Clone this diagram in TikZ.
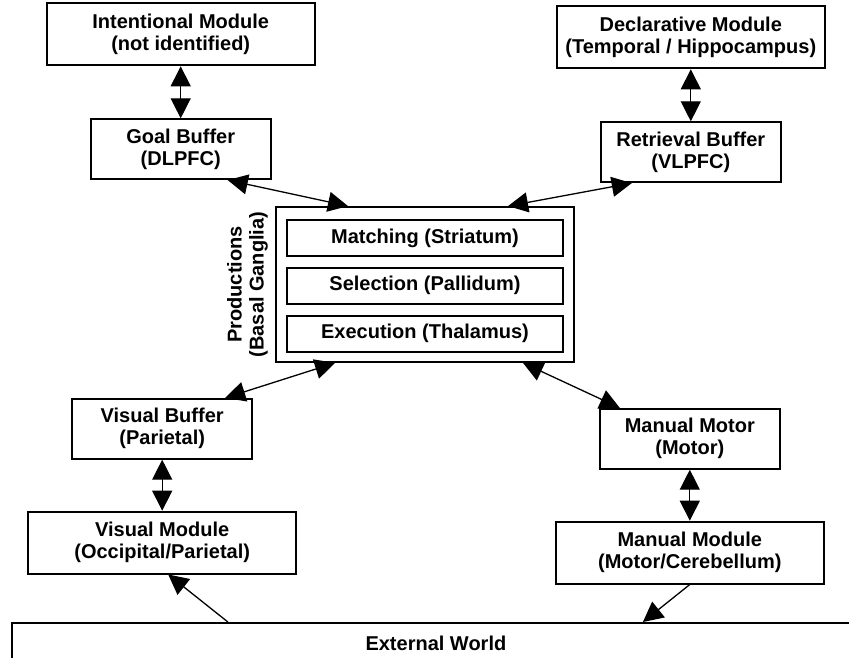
\documentclass[tikz,border=0pt]{standalone}
\usepackage{fontspec}
\setmainfont{Liberation Sans}
\usepackage{tikz}
\usetikzlibrary{positioning, arrows.meta}

\begin{document}
\begin{tikzpicture}[x = 1pt, y = 1pt, node distance = 52pt, >={Triangle[length=20pt, width=20pt]}]
            \tikzstyle{every node} = [font=\bfseries\fontsize{20pt}{22pt}\selectfont]
            \tikzstyle{module} = [draw, line width=1.8pt, minimum width=268pt, minimum height=62pt, align=center]
            \tikzstyle{buffer} = [draw, line width=1.8pt, minimum width=180pt, minimum height=60pt, align=center]
            \tikzstyle{stage} = [draw, line width=1.8pt, minimum width=276pt, minimum height=36pt]
            \tikzstyle{link} = [<->, line width=1.3pt]
            \useasboundingbox (0, 0) rectangle (849, -658);

            \node [draw, line width=1.8pt, minimum width=298pt, minimum height=155pt] (prod) at (425, -284.5) {};
            \node [stage, below = 13pt of prod.north] (match) {Matching (Striatum)};
            \node [stage, below = 10pt of match] (select) {Selection (Pallidum)};
            \node [stage, below = 10pt of select] (exec) {Execution (Thalamus)};
            \node [rotate = 90, anchor = south, inner sep = 0pt, align = center] (plabel) at ([xshift=-7pt]prod.west) {Productions\\(Basal Ganglia)};

            \node [buffer, above left = 26pt and 3.5pt of prod] (goal) {Goal Buffer\\(DLPFC)};
            \node [module, above = of goal] (intent) {Intentional Module\\(not identified)};

            \node [buffer, above right = 23pt and 25pt of prod] (retr) {Retrieval Buffer\\(VLPFC)};
            \node [module, above = of retr] (decl) {Declarative Module\\(Temporal / Hippocampus)};

            \node [buffer, below left = 35pt and 22pt of prod] (vbuf) {Visual Buffer\\(Parietal)};
            \node [module, below = 51pt of vbuf] (vmod) {Visual Module\\(Occipital/Parietal)};

            \node [buffer, below right = 45pt and 24pt of prod] (mmot) {Manual Motor\\(Motor)};
            \node [module, below = 51pt of mmot] (mmod) {Manual Module\\(Motor/Cerebellum)};

            \node [draw, line width=1.8pt, anchor = north west, minimum width=848pt, minimum height=40pt] (world) at (11, -622) {External World};

            \draw [link] (intent) to (goal);
            \draw [link] (decl) to (retr);
            \draw [link] (vbuf) to (vmod);
            \draw [link] (mmot) to (mmod);
            \draw [link] ([xshift=47pt]goal.south) to ([xshift=-77pt]prod.north);
            \draw [link] ([xshift=-59pt]retr.south) to ([xshift=83pt]prod.north);
            \draw [link] ([xshift=63pt]vbuf.north) to ([xshift=-90pt]prod.south);
            \draw [link] ([xshift=-70pt]mmot.north) to ([xshift=98pt]prod.south);
            \draw [->, line width=1.3pt] ([xshift=-208pt]world.north) to ([xshift=6pt]vmod.south);
            \draw [->, line width=1.3pt] (mmod.south) to ([xshift=207pt]world.north);
        \end{tikzpicture}
\end{document}
